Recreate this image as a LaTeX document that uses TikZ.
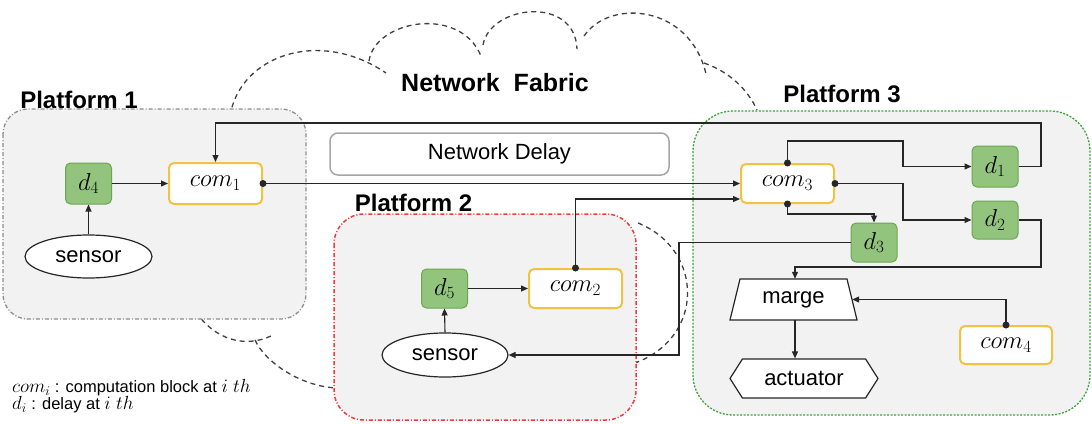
\documentclass[tikz,border=0pt]{standalone}
\usepackage[no-math]{fontspec}
\setmainfont{Liberation Sans}
\DeclareFontFamily{OML}{cmm}{\skewchar\font'177}
\DeclareFontShape{OML}{cmm}{m}{it}{<-6>cmmi5<6-7>cmmi6<7-8>cmmi7<8-9>cmmi8<9-10>cmmi9<10-12>cmmi10<12->cmmi12}{}
\DeclareFontFamily{OT1}{cmr}{\hyphenchar\font45 }
\DeclareFontShape{OT1}{cmr}{m}{n}{<-6>cmr5<6-7>cmr6<7-8>cmr7<8-9>cmr8<9-10>cmr9<10-12>cmr10<12-17>cmr12<17->cmr17}{}
\usetikzlibrary{arrows.meta,calc,shapes.geometric,shapes.symbols}
\definecolor{pfill}{HTML}{F2F2F2}
\definecolor{pgray}{HTML}{8C8C8C}
\definecolor{pred}{HTML}{F03C3C}
\definecolor{pgreen}{HTML}{3AA63A}
\definecolor{dgreen}{HTML}{92C47D}
\definecolor{dgreenline}{HTML}{6AA84F}
\definecolor{cyellow}{HTML}{F4C242}
\definecolor{linec}{HTML}{262626}
\definecolor{cloudc}{HTML}{404040}
\definecolor{ndgray}{HTML}{A6A6A6}
\newcommand{\legmath}[1]{{\fontsize{19}{17}\selectfont$#1$}}
\begin{document}
\begin{tikzpicture}[x=1pt,y=-1pt,
  txt/.style={font=\fontsize{22}{26}\selectfont},
  mtxt/.style={font=\fontsize{24.5}{28}\selectfont},
  lbl/.style={font=\fontsize{24}{28}\selectfont\bfseries, inner sep=0pt},
  dbox/.style={mtxt, draw=dgreenline, fill=dgreen, rounded corners=5pt, line width=1pt, minimum width=46pt, minimum height=40pt, inner sep=0pt},
  cbox/.style={mtxt, draw=cyellow, fill=white, rounded corners=5pt, line width=2pt, minimum width=93pt, minimum height=39pt, inner sep=0pt},
  sens/.style={txt, ellipse, draw=linec, fill=white, line width=1.2pt, minimum width=127pt, minimum height=43pt, inner sep=0pt},
  shp/.style={txt, draw=linec, fill=white, line width=1.2pt, inner sep=0pt},
  conn/.style={line width=1.1pt, draw=linec},
  arr/.style={conn, -{Triangle[length=7pt,width=6pt]}},
  dotc/.style={circle, fill=linec, inner sep=0pt, minimum size=7pt},
  cloud/.style={draw=cloudc, line width=1.3pt, dash pattern=on 5pt off 4pt},
  plat/.style={fill=pfill, line width=1.3pt}
]
\useasboundingbox (0,0) rectangle (1092,423);

% cloud outline
\draw[cloud] (230,116) .. controls (240,55) and (320,28) .. (386,73);
\draw[cloud] (369,61) .. controls (375,20) and (460,5) .. (481,56);
\draw[cloud] (483,45) .. controls (490,5) and (575,-5) .. (577,49);
\draw[cloud] (584,36) .. controls (610,-2) and (690,5) .. (706,74);
\draw[cloud] (704,63) .. controls (730,72) and (748,90) .. (757,110);
\draw[cloud] (196,312) .. controls (215,340) and (245,348) .. (271,336);
\draw[cloud] (255,340) .. controls (265,362) and (300,386) .. (336,388);
\draw[cloud] (638,223) .. controls (705,250) and (705,340) .. (632,364);

% platforms
\path[plat, draw=pgray, dash pattern=on 4pt off 2pt on 1pt off 2pt, rounded corners=25pt] (3,109) rectangle (306,319);
\path[plat, draw=pred, line width=1.5pt, dash pattern=on 4pt off 2pt on 1pt off 2pt, rounded corners=30pt] (334,214) rectangle (636,420);
\path[plat, draw=pgreen, dash pattern=on 2pt off 1.5pt, rounded corners=40pt] (693,111) rectangle (1090,415);

% labels
\node[lbl] (lp1) at (79,100) {Platform 1};
\node[lbl] (lp2) at (413.5,203) {Platform 2};
\node[lbl] (lp3) at (842,94) {Platform 3};
\node[lbl, font=\fontsize{25}{29}\selectfont\bfseries] (lnf) at (495,83) {Network~~Fabric};

% network delay
\node[txt, draw=ndgray, fill=white, line width=1.5pt, rounded corners=8pt, minimum width=339pt, minimum height=42pt, inner sep=0pt] (nd) at (499.5,154) {Network Delay};

% platform 1
\node[dbox, minimum height=41pt] (d4) at (88.5,183.5) {$d_4$};
\node[cbox, minimum height=41pt] (com1) at (215.5,183.5) {$com_1$};
\node[sens] (s1) at (88.5,256.5) {sensor};

% platform 2
\node[dbox, minimum height=39pt] (d5) at (444.5,288.5) {$d_5$};
\node[cbox] (com2) at (575.5,288.5) {$com_2$};
\node[sens, minimum width=126pt, minimum height=44pt] (s2) at (445,355) {sensor};

% platform 3
\node[cbox] (com3) at (787.5,183.5) {$com_3$};
\node[dbox, minimum height=41pt] (d1) at (995,166.5) {$d_1$};
\node[dbox, minimum height=38pt] (d2) at (995,220) {$d_2$};
\node[dbox, minimum height=39pt] (d3) at (874,242.5) {$d_3$};
\path[draw=linec, fill=white, line width=1.2pt] (740,279) -- (847,279) -- (857,320) -- (730,320) -- cycle;
\node[txt, minimum width=117pt, minimum height=41pt, inner sep=0pt] (marge) at (793.5,299.5) {marge};
\node[shp, signal, signal to=west and east, signal pointer angle=115, minimum width=148pt, minimum height=39pt] (act) at (804,378.5) {actuator};
\node[cbox, minimum width=92pt, minimum height=38pt] (com4) at (1006,345) {$com_4$};

% coordinates
\coordinate (fb) at (1041,123);
\coordinate (j1) at (903,141);
\coordinate (j3) at (679,355);
\coordinate (j4) at (1041,267);
\coordinate (j5) at (795,0);

% connectors
\draw[arr] (s1.north) -- (d4.south);
\draw[arr] (d4.east) -- (com1.west);
\draw[arr] (d1.east) -| (fb) -| (com1.north);
\draw[arr] (com1.east) -- (com3.west);
\draw[arr] (com2.north) |- ($(com3.west)+(0,15.5)$);
\draw[arr] (s2.north) -- (d5.south);
\draw[arr] (d5.east) -- (com2.west);
\draw[arr] (com3.north) |- (j1) |- (d1.west);
\draw[arr] (com3.east) -| (j1 |- d2.west) -- (d2.west);
\draw[arr] (com3.south) -- ++(0,10) -| (d3.north);
\draw[arr] (d3.west) -| (j3) -- (s2.east);
\draw[arr] (d2.east) -| (j4) -| (j5 |- marge.north);
\draw[arr] (com4.north) |- (marge.east);
\draw[arr] (j5 |- marge.south) -- (j5 |- act.north);

% dots
\node[dotc] at (com1.east) {};
\node[dotc] at (com2.north) {};
\node[dotc] at (com3.north) {};
\node[dotc] at (com3.east) {};
\node[dotc] at (com3.south) {};
\node[dotc] at (com4.north) {};

% legend
\node[anchor=west, inner sep=0pt, font=\fontsize{16.5}{17}\selectfont] (leg1) at (12,388) {\legmath{com_i} : computation block at \legmath{i\ th}};
\node[anchor=west, inner sep=0pt, font=\fontsize{16.5}{17}\selectfont] (leg2) at (12,405) {\legmath{d_i} : delay at \legmath{i\ th}};
\end{tikzpicture}
\end{document}
